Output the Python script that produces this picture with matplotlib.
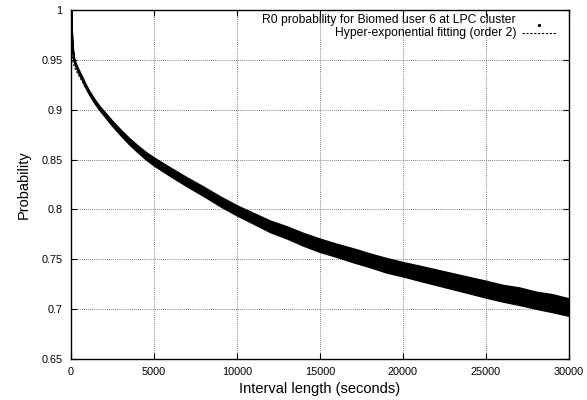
import matplotlib
matplotlib.use("Agg")
import matplotlib.pyplot as plt
import numpy as np

# Interval length (s) at which the band of measured R0 probabilities was read
interval_s = [0, 20, 60, 140, 250, 440, 650, 843, 1100, 1400, 1700, 2000, 2500, 3000,
              3500, 4000, 4500, 5000, 6000, 7000, 8000, 9000, 10000, 11000, 12000,
              13000, 14000, 15000, 16000, 17000, 18000, 19000, 20000, 21000, 22000,
              23000, 24000, 25000, 26000, 27000, 28000, 29000, 30000]
# centre of the measured band
prob_mid = [1.000, 0.985, 0.968, 0.953, 0.946, 0.939, 0.932, 0.925, 0.917, 0.909, 0.902,
            0.896, 0.886, 0.877, 0.8685, 0.861, 0.854, 0.848, 0.8375, 0.8275, 0.818,
            0.808, 0.799, 0.791, 0.783, 0.777, 0.770, 0.764, 0.759, 0.754, 0.749, 0.744,
            0.740, 0.736, 0.732, 0.728, 0.724, 0.720, 0.716, 0.713, 0.709, 0.706, 0.702]
# half-width of the scattered band
prob_spread = [0.0008, 0.0010, 0.0011, 0.0012, 0.0012, 0.0013, 0.0013, 0.0014, 0.0015,
               0.0016, 0.0017, 0.0019, 0.0022, 0.0025, 0.0028, 0.0031, 0.0034, 0.0037,
               0.0040, 0.0042, 0.0044, 0.0046, 0.0048, 0.0051, 0.0055, 0.0058, 0.0061,
               0.0064, 0.0063, 0.0067, 0.0066, 0.0070, 0.0069, 0.0073, 0.0075, 0.0077,
               0.0079, 0.0082, 0.0081, 0.0085, 0.0083, 0.0087, 0.0085]
# hyper-exponential fit (order 2), read where it is visible
fit_s = [0, 20, 60, 140, 250, 440, 650, 843, 1100, 1700, 2500, 3500, 5000, 10000, 15000,
         20000, 25000, 30000]
fit_prob = [1.000, 0.975, 0.956, 0.946, 0.941, 0.935, 0.929, 0.923, 0.916, 0.902, 0.886,
            0.8685, 0.848, 0.799, 0.764, 0.740, 0.720, 0.702]

xticks = [0, 5000, 10000, 15000, 20000, 25000, 30000]
yticks = [0.65, 0.7, 0.75, 0.8, 0.85, 0.9, 0.95, 1]
ytick_labels = ["0.65", "0.7", "0.75", "0.8", "0.85", "0.9", "0.95", "1"]

plt.rcParams["font.family"] = ["Liberation Sans", "DejaVu Sans"]

fig = plt.figure(figsize=(5.87, 4.0), dpi=100)
ax = fig.add_axes([71 / 587, 1 - 359 / 400, 498 / 587, 349 / 400])

mid = np.array(prob_mid)
spread = np.array(prob_spread)
ax.fill_between(interval_s, mid - spread, mid + spread, color="black", linewidth=1.4,
                edgecolor="black", joinstyle="round", zorder=3)
ax.plot(fit_s, fit_prob, color="black", linestyle=(0, (2, 1.5)), linewidth=0.8, zorder=2)

ax.set_xlim(0, 30000)
ax.set_ylim(0.65, 1.0)
ax.set_xticks(xticks)
ax.set_xticklabels([str(t) for t in xticks])
ax.set_yticks(yticks)
ax.set_yticklabels(ytick_labels)
ax.tick_params(direction="in", top=True, right=True, length=4, width=0.8,
               labelsize=7.8, pad=6)
ax.grid(True, color="#555555", linestyle=(0, (1, 1.5)), linewidth=0.6)
ax.set_axisbelow(True)
for sp in ax.spines.values():
    sp.set_linewidth(1.0)

ax.set_xlabel("Interval length (seconds)", fontsize=10.5, labelpad=3)
ax.set_ylabel("Probability", fontsize=10.5, labelpad=8)

# legend drawn gnuplot-style: right-aligned text, sample on the right
ax.text(0.8936, 0.9713, "R0 probability for Biomed user 6 at LPC cluster",
        transform=ax.transAxes, ha="right", va="center", fontsize=8.7, zorder=5)
ax.text(0.8936, 0.934, "Hyper-exponential fitting (order 2)",
        transform=ax.transAxes, ha="right", va="center", fontsize=8.7, zorder=5)
ax.plot([0.94], [0.958], transform=ax.transAxes, marker="s", markersize=1.2,
        color="black", linestyle="none")
ax.plot([0.9056, 0.976], [0.934, 0.934], transform=ax.transAxes, color="black",
        linestyle=(0, (2, 1.5)), linewidth=0.8)

fig.savefig("out.png", dpi=100)
